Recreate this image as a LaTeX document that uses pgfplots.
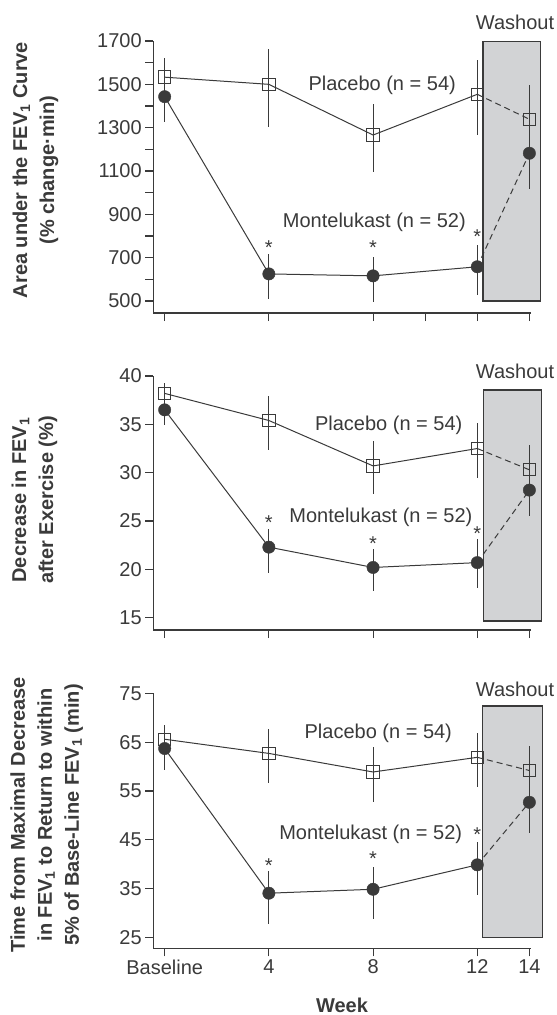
\documentclass[border=0pt]{standalone}
\usepackage{fontspec}
\setmainfont{Liberation Sans}
\usepackage{pgfplots}
\pgfplotsset{compat=1.18}

\definecolor{ink}{HTML}{3A3A3A}
\definecolor{boxgray}{HTML}{D2D3D5}

\newcommand{\lblfont}{\fontsize{20}{24}\selectfont}

\pgfplotsset{
  panel/.style={
    scale only axis, width=378pt, anchor=south west,
    axis lines=left, axis line style={-, ink, line width=1.1pt},
    xmin=-0.44, xmax=14.07, clip=false,
    tick align=outside, major tick length=8pt, minor tick length=8pt,
    every tick/.style={ink, line width=1.1pt},
    tick label style={font=\lblfont, text=ink},
    /pgf/number format/assume math mode=true,
    /pgf/number format/1000 sep={},
    scaled y ticks=false,
    xticklabels={},
  },
  washbox/.style={fill=boxgray, draw=ink, line width=1.1pt, forget plot},
  solidln/.style={ink, line width=1pt, no marks},
  dashln/.style={ink, line width=1pt, no marks, dash pattern=on 6pt off 4pt},
  pla/.style={only marks, mark=square, mark size=6.2pt,
    mark options={draw=ink, line width=1pt, fill=none},
    error bars/.cd, y dir=both, y explicit, error mark=none,
    error bar style={ink, line width=1pt}},
  mon/.style={only marks, mark=*, mark size=6.2pt,
    mark options={draw=ink, fill=ink},
    error bars/.cd, y dir=both, y explicit, error mark=none,
    error bar style={ink, line width=1pt}},
}
\tikzset{
  ast/.style={font=\lblfont, text=ink, yshift=-4.3pt},
  grp/.style={font=\lblfont, text=ink},
}

\begin{document}
\begin{tikzpicture}
\useasboundingbox (0,0) rectangle (557pt,-1015pt);

% --- panel 1: area under the curve
\begin{axis}[panel, at={(153.2pt,-313pt)}, height=272pt,
  ymin=444.6, ymax=1700,
  ytick={500,700,...,1700}, minor ytick={600,800,...,1600},
  xtick={0,4,8,10,12,14}]
\addplot[washbox] coordinates {(12.22,500) (14.44,500) (14.44,1697) (12.22,1697)} -- cycle;
\addplot[solidln] coordinates {(0,1533) (4,1500) (8,1266) (12,1454)};
\addplot[dashln] coordinates {(12,1454) (14,1339)};
\addplot[pla] coordinates {
  (0,1533) += (0,87) -= (0,87)
  (4,1500) += (0,163) -= (0,195)
  (8,1266) += (0,143) -= (0,169)
  (12,1454) += (0,158) -= (0,188)
  (14,1339) += (0,158) -= (0,160)
};
\addplot[solidln] coordinates {(0,1443) (4,625) (8,616) (12,658)};
\addplot[dashln] coordinates {(12,658) (14,1182)};
\addplot[mon] coordinates {
  (0,1443) += (0,115) -= (0,115)
  (4,625) += (0,92) -= (0,116)
  (8,616) += (0,89) -= (0,119)
  (12,658) += (0,101) -= (0,130)
  (14,1182) += (0,166) -= (0,166)
};
\node[ast] at (axis cs:4,768) {*};
\node[ast] at (axis cs:8,766) {*};
\node[ast] at (axis cs:12,817) {*};
\node[grp] at (axis cs:8.35,1497) {Placebo (n = 54)};
\node[grp] at (axis cs:8.05,865) {Montelukast (n = 52)};
\node[grp] at (axis cs:13.45,1785) {Washout};
\end{axis}

% --- panel 2: decrease in FEV1
\begin{axis}[panel, at={(153.2pt,-630pt)}, height=254pt,
  ymin=13.73, ymax=40,
  ytick={15,20,...,40},
  xtick={0,4,8,12,14}]
\addplot[washbox] coordinates {(12.25,14.66) (14.45,14.66) (14.45,38.55) (12.25,38.55)} -- cycle;
\addplot[solidln] coordinates {(0,38.2) (4,35.4) (8,30.7) (12,32.5)};
\addplot[dashln] coordinates {(12,32.5) (14,30.3)};
\addplot[pla] coordinates {
  (0,38.2) += (0,1.1) -= (0,1.1)
  (4,35.4) += (0,2.5) -= (0,3.1)
  (8,30.7) += (0,2.6) -= (0,2.9)
  (12,32.5) += (0,2.6) -= (0,3.0)
  (14,30.3) += (0,2.6) -= (0,2.6)
};
\addplot[solidln] coordinates {(0,36.5) (4,22.3) (8,20.2) (12,20.7)};
\addplot[dashln] coordinates {(12,20.7) (14,28.2)};
\addplot[mon] coordinates {
  (0,36.5) += (0,1.6) -= (0,1.6)
  (4,22.3) += (0,1.9) -= (0,2.7)
  (8,20.2) += (0,1.9) -= (0,2.4)
  (12,20.7) += (0,2.4) -= (0,2.6)
  (14,28.2) += (0,2.7) -= (0,2.7)
};
\node[ast] at (axis cs:4,25.28) {*};
\node[ast] at (axis cs:8,23.1) {*};
\node[ast] at (axis cs:12,24.14) {*};
\node[grp] at (axis cs:8.6,34.93) {Placebo (n = 54)};
\node[grp] at (axis cs:8.3,25.41) {Montelukast (n = 52)};
\node[grp] at (axis cs:13.45,40.52) {Washout};
\end{axis}

% --- panel 3: recovery time
\begin{axis}[panel, at={(153.2pt,-948.3pt)}, height=255pt,
  ymin=22.82, ymax=75,
  ytick={25,35,...,75},
  xtick={0,4,8,12,14}, xticklabels={Baseline,4,8,12,14}]
\addplot[washbox] coordinates {(12.2,25) (14.5,25) (14.5,72.4) (12.2,72.4)} -- cycle;
\addplot[solidln] coordinates {(0,65.6) (4,62.7) (8,58.9) (12,61.9)};
\addplot[dashln] coordinates {(12,61.9) (14,59.2)};
\addplot[pla] coordinates {
  (0,65.6) += (0,2.9) -= (0,2.9)
  (4,62.7) += (0,5.0) -= (0,6.0)
  (8,58.9) += (0,5.1) -= (0,6.1)
  (12,61.9) += (0,4.9) -= (0,6.0)
  (14,59.2) += (0,5.0) -= (0,5.0)
};
\addplot[solidln] coordinates {(0,63.7) (4,34.1) (8,34.9) (12,39.9)};
\addplot[dashln] coordinates {(12,39.9) (14,52.7)};
\addplot[mon] coordinates {
  (0,63.7) += (0,4.3) -= (0,4.3)
  (4,34.1) += (0,4.6) -= (0,6.3)
  (8,34.9) += (0,4.6) -= (0,6.1)
  (12,39.9) += (0,4.6) -= (0,6.2)
  (14,52.7) += (0,6.2) -= (0,6.2)
};
\node[ast] at (axis cs:4,40.54) {*};
\node[ast] at (axis cs:8,42.1) {*};
\node[ast] at (axis cs:12,47.0) {*};
\node[grp] at (axis cs:8.2,66.88) {Placebo (n = 54)};
\node[grp] at (axis cs:7.91,46.2) {Montelukast (n = 52)};
\node[grp] at (axis cs:13.45,75.9) {Washout};
\end{axis}

% axis titles
\begin{scope}[every node/.style={rotate=90, align=center, text=ink,
    font=\bfseries\fontsize{20}{27}\selectfont}]
\node at (35.5pt,-170pt) {Area under the FEV\textsubscript{1} Curve\\(\% change·min)};
\node at (34.5pt,-500pt) {Decrease in FEV\textsubscript{1}\\after Exercise (\%)};
\node at (46.7pt,-815pt) {Time from Maximal Decrease\\in FEV\textsubscript{1} to Return to within\\5\% of Base-Line FEV\textsubscript{1} (min)};
\end{scope}
\node[text=ink, font=\bfseries\fontsize{20}{24}\selectfont] at (342pt,-1005pt) {Week};
\end{tikzpicture}
\end{document}
